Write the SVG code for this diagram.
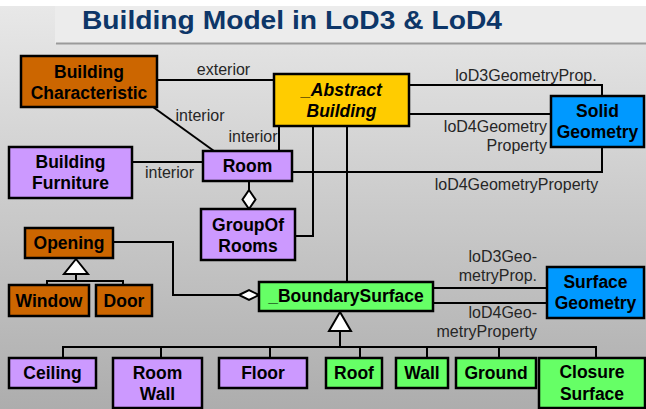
<svg xmlns="http://www.w3.org/2000/svg" width="646" height="409" viewBox="0 0 646 409">
<defs>
<linearGradient id="bg" x1="0" y1="0" x2="0" y2="1">
<stop offset="0" stop-color="#e8e8e8"/>
<stop offset="1" stop-color="#adadad"/>
</linearGradient>
<style>
.box{stroke:#000;stroke-width:2.5}
.or{fill:#cc6600}.ye{fill:#ffcc00}.bl{fill:#0099ff}.la{fill:#cc99ff}.gr{fill:#66ff66}
.t{font-family:"Liberation Sans",Arial,sans-serif;font-weight:bold;font-size:17.5px;fill:#000;text-anchor:middle}
.it{font-style:italic}
.lb{font-family:"Liberation Sans",Arial,sans-serif;font-size:16px;fill:#262626}
.r{text-anchor:end}
.c{fill:none;stroke:#000;stroke-width:2}
.h{fill:#fff;stroke:#000;stroke-width:2}
</style>
</defs>
<rect x="0" y="0" width="646" height="409" fill="#fff"/>
<rect x="0" y="6" width="646" height="403" fill="url(#bg)"/>
<rect x="55" y="6" width="591" height="37" fill="#ececec"/>
<line x1="56" y1="43.5" x2="646" y2="43.5" stroke="#9a9a9a" stroke-width="2"/>
<text x="82" y="29" font-family="Liberation Sans,Arial,sans-serif" font-weight="bold" font-size="25" fill="#0d3668" textLength="420" lengthAdjust="spacingAndGlyphs">Building Model in LoD3 &amp; LoD4</text>

<g id="connectors">
<path class="c" d="M157,80 H274"/>
<path class="c" d="M153,107 L214,151"/>
<path class="c" d="M279,151 V126"/>
<path class="c" d="M132,162 H203"/>
<path class="c" d="M292,172 H602 V147"/>
<path class="c" d="M409,85 H602 V96"/>
<path class="c" d="M409,114 H551"/>
<path class="c" d="M249,181 V190"/>
<path class="h" d="M249,190 L255.5,199.5 L249,209 L242.5,199.5 Z"/>
<path class="c" d="M295,236 H313 V126"/>
<path class="c" d="M347,126 V282"/>
<path class="c" d="M113,242 H173 V295 H239"/>
<path class="h" d="M239,295 L249,290 L259,295 L249,300 Z"/>
<path class="h" d="M76,259 L88,274 L64,274 Z"/>
<path class="c" d="M76,274 V281 M47,285 V281 H123 V285"/>
<path class="h" d="M340,312 L351,331 L329,331 Z"/>
<path class="c" d="M340,331 V347 M63,358 V347 H596 V358 M161,347 V358 M270,347 V358 M360,347 V358 M427,347 V358 M499,347 V358"/>
<path class="c" d="M433,288 H547 M433,303 H547"/>
<text class="lb" x="223.5" y="75" text-anchor="middle">exterior</text>
<text class="lb" x="200" y="121" text-anchor="middle">interior</text>
<text class="lb" x="253" y="142" text-anchor="middle">interior</text>
<text class="lb" x="169.5" y="178" text-anchor="middle">interior</text>
<text class="lb" x="526" y="81" text-anchor="middle">loD3GeometryProp.</text>
<text class="lb r" x="547" y="132">loD4Geometry</text>
<text class="lb r" x="547" y="151">Property</text>
<text class="lb" x="516.5" y="190" text-anchor="middle">loD4GeometryProperty</text>
<text class="lb r" x="537" y="262">loD3Geo-</text>
<text class="lb r" x="537" y="281">metryProp.</text>
<text class="lb r" x="537" y="318">loD4Geo-</text>
<text class="lb r" x="537" y="337">metryProperty</text>
</g>

<g id="BuildingCharacteristic"><rect class="box or" x="21" y="56" width="136" height="51"/><text class="t" x="89" y="78">Building</text><text class="t" x="89" y="99">Characteristic</text></g>
<g id="AbstractBuilding"><rect class="box ye" x="274" y="74" width="135" height="52"/><text class="t it" x="341.5" y="96">_Abstract</text><text class="t it" x="341.5" y="117">Building</text></g>
<g id="SolidGeometry"><rect class="box bl" x="551" y="96" width="93" height="51"/><text class="t" x="597.5" y="117">Solid</text><text class="t" x="597.5" y="138">Geometry</text></g>
<g id="BuildingFurniture"><rect class="box la" x="9" y="147" width="123" height="51"/><text class="t" x="70.5" y="168">Building</text><text class="t" x="70.5" y="189">Furniture</text></g>
<g id="Room"><rect class="box la" x="203" y="151" width="89" height="30"/><text class="t" x="247.5" y="172">Room</text></g>
<g id="GroupOfRooms"><rect class="box la" x="201" y="209" width="94" height="51"/><text class="t" x="248" y="231">GroupOf</text><text class="t" x="248" y="252">Rooms</text></g>
<g id="Opening"><rect class="box or" x="25" y="228" width="88" height="30"/><text class="t" x="69" y="249">Opening</text></g>
<g id="Window"><rect class="box or" x="9" y="285" width="80" height="31"/><text class="t" x="49" y="307">Window</text></g>
<g id="Door"><rect class="box or" x="96" y="285" width="56" height="31"/><text class="t" x="124" y="307">Door</text></g>
<g id="BoundarySurface"><rect class="box gr" x="259" y="282" width="174" height="29"/><text class="t" x="346" y="302">_BoundarySurface</text></g>
<g id="SurfaceGeometry"><rect class="box bl" x="547" y="267" width="97" height="51"/><text class="t" x="595.5" y="288">Surface</text><text class="t" x="595.5" y="309">Geometry</text></g>
<g id="Ceiling"><rect class="box la" x="9" y="358" width="87" height="30"/><text class="t" x="52.5" y="379">Ceiling</text></g>
<g id="RoomWall"><rect class="box la" x="113" y="358" width="89" height="50"/><text class="t" x="157.5" y="379">Room</text><text class="t" x="157.5" y="400">Wall</text></g>
<g id="Floor"><rect class="box la" x="219" y="358" width="88" height="30"/><text class="t" x="263" y="379">Floor</text></g>
<g id="Roof"><rect class="box gr" x="326" y="358" width="56" height="30"/><text class="t" x="354" y="379">Roof</text></g>
<g id="Wall"><rect class="box gr" x="396" y="358" width="52" height="30"/><text class="t" x="422" y="379">Wall</text></g>
<g id="Ground"><rect class="box gr" x="456" y="358" width="80" height="30"/><text class="t" x="496" y="379">Ground</text></g>
<g id="ClosureSurface"><rect class="box gr" x="539" y="358" width="106" height="50"/><text class="t" x="592" y="378">Closure</text><text class="t" x="592" y="400">Surface</text></g>
</svg>
